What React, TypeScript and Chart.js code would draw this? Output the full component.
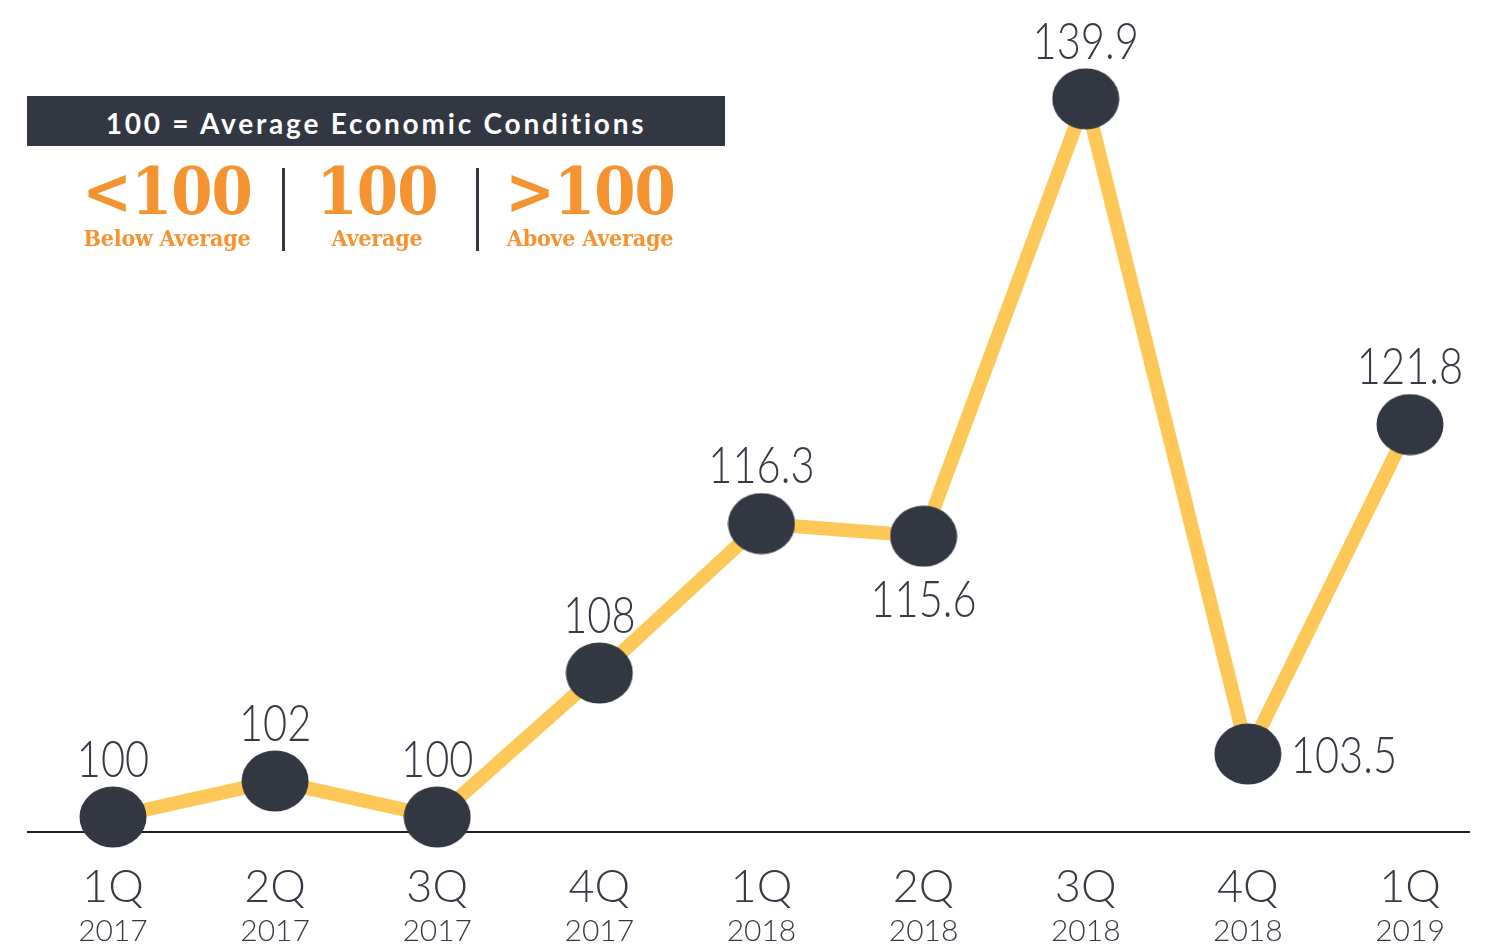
import React, { useEffect, useRef } from "react";
import { Chart, registerables } from "chart.js";

Chart.register(...registerables);

const quarterLabels = ["1Q", "2Q", "3Q", "4Q", "1Q", "2Q", "3Q", "4Q", "1Q"];
const yearLabels = ["2017", "2017", "2017", "2017", "2018", "2018", "2018", "2018", "2019"];
const indexValues = [100, 102, 100, 108, 116.3, 115.6, 139.9, 103.5, 121.8];
const labelPlacement = ["top", "top", "top", "top", "top", "bottom", "top", "right", "top"];

const DARK = "#333742";
const YELLOW = "#fdc858";
const ORANGE = "#f59331";

function makeEllipse(): HTMLCanvasElement {
  const c = document.createElement("canvas");
  c.width = 68;
  c.height = 62;
  const g = c.getContext("2d")!;
  g.fillStyle = DARK;
  g.beginPath();
  g.ellipse(34, 31, 33.5, 30.5, 0, 0, Math.PI * 2);
  g.fill();
  return c;
}

const valueLabelPlugin = {
  id: "valueLabels",
  afterDatasetsDraw(chart: any) {
    const meta = chart.getDatasetMeta(0);
    const ctx = chart.ctx;
    const size = 52;
    meta.data.forEach((pt: any, i: number) => {
      const pos = labelPlacement[i];
      let tx = pt.x;
      let ty = pt.y;
      let align: CanvasTextAlign = "center";
      if (pos === "top") ty = pt.y - 59;
      else if (pos === "bottom") ty = pt.y + 62;
      else if (pos === "right") {
        tx = pt.x + 43;
        align = "left";
      }
      ctx.save();
      ctx.font = `300 ${size}px Lato, "Open Sans", sans-serif`;
      ctx.fillStyle = "#363a45";
      ctx.textAlign = align;
      ctx.textBaseline = "alphabetic";
      ctx.translate(tx, ty + size * 0.36);
      ctx.scale(0.8, 1);
      ctx.fillText(String(indexValues[i]), 0, 0);
      ctx.restore();
    });
  },
};

const zeroPad = (s: any, h?: number) => {
  if (h !== undefined) s.height = h;
  s.paddingLeft = 0;
  s.paddingRight = 0;
  s.paddingTop = 0;
  s.paddingBottom = 0;
};

export default function App() {
  const ref = useRef<HTMLCanvasElement>(null);
  useEffect(() => {
    document.body.style.margin = "0";
    document.body.style.overflow = "hidden";
    const setTicks = (s: any) => {
      s.ticks = quarterLabels.map((_, i) => ({ value: i }));
    };
    const chart = new Chart(ref.current!, {
      type: "line",
      data: {
        datasets: [
          {
            data: indexValues.map((v, i) => ({ x: i, y: v })),
            borderColor: YELLOW,
            borderWidth: 14,
            pointStyle: makeEllipse() as any,
            pointRadius: 33,
            backgroundColor: DARK,
            tension: 0,
            clip: false as any,
          },
        ],
      },
      options: {
        animation: false,
        responsive: false,
        devicePixelRatio: 1,
        events: [],
        layout: { autoPadding: false, padding: { left: 28, right: 20, top: 0, bottom: 0 } },
        plugins: { legend: { display: false }, tooltip: { enabled: false } },
        scales: {
          x: {
            type: "linear",
            position: "bottom",
            weight: 0,
            min: -0.524,
            max: 8.364,
            afterBuildTicks: setTicks,
            afterFit: (s: any) => zeroPad(s, 76),
            grid: { display: false, drawTicks: false },
            border: { display: true, color: "#231f20", width: 2 },
            ticks: {
              autoSkip: false,
              maxRotation: 0,
              padding: 28,
              color: "#363a45",
              font: { family: "Lato, 'Open Sans', sans-serif", size: 45, weight: "300" as any },
              callback: (v: any) => quarterLabels[v] ?? "",
            },
          },
          x2: {
            type: "linear",
            position: "bottom",
            weight: 1,
            min: -0.524,
            max: 8.364,
            afterBuildTicks: setTicks,
            afterFit: (s: any) => zeroPad(s, 39),
            grid: { display: false, drawTicks: false },
            border: { display: false },
            ticks: {
              autoSkip: false,
              maxRotation: 0,
              padding: 5,
              color: "#363a45",
              font: { family: "Lato, 'Open Sans', sans-serif", size: 30, weight: "300" as any },
              callback: (v: any) => yearLabels[v] ?? "",
            },
          },
          y: {
            type: "linear",
            display: false,
            min: 99.167,
            max: 145.39,
            afterFit: (s: any) => zeroPad(s),
          },
        },
      },
      plugins: [valueLabelPlugin],
    });
    return () => chart.destroy();
  }, []);

  const serif = "'DejaVu Serif Condensed', 'DejaVu Serif', serif";
  const group = (cx: number, big: string, small: string) => (
    <div style={{ position: "absolute", left: cx - 110, width: 220, top: 0, textAlign: "center", color: ORANGE, fontFamily: serif, fontWeight: 700 }}>
      <div style={{ position: "absolute", left: 0, width: 220, top: 158, fontSize: 66, lineHeight: "66px", letterSpacing: "-1px" }}>{big}</div>
      <div style={{ position: "absolute", left: 0, width: 220, top: 226, fontSize: 23, lineHeight: "23px", letterSpacing: "-0.2px" }}>{small}</div>
    </div>
  );

  return (
    <div style={{ position: "relative", width: 1489, height: 947, overflow: "hidden", background: "#fff" }}>
      <canvas ref={ref} width={1489} height={947} style={{ position: "absolute", left: 0, top: 0 }} />
      <div
        style={{
          position: "absolute",
          left: 27,
          top: 96,
          width: 698,
          height: 50,
          background: DARK,
          color: "#fff",
          fontFamily: "Lato, 'Open Sans', sans-serif",
          fontWeight: 700,
          fontSize: 28,
          letterSpacing: "2.8px",
          lineHeight: "54px",
          textAlign: "center",
        }}
      >
        100 = Average Economic Conditions
      </div>
      {group(167, "<100", "Below Average")}
      {group(377, "100", "Average")}
      {group(590, ">100", "Above Average")}
      <div style={{ position: "absolute", left: 282, top: 168, width: 3, height: 83, background: DARK }} />
      <div style={{ position: "absolute", left: 476, top: 168, width: 3, height: 83, background: DARK }} />
    </div>
  );
}
